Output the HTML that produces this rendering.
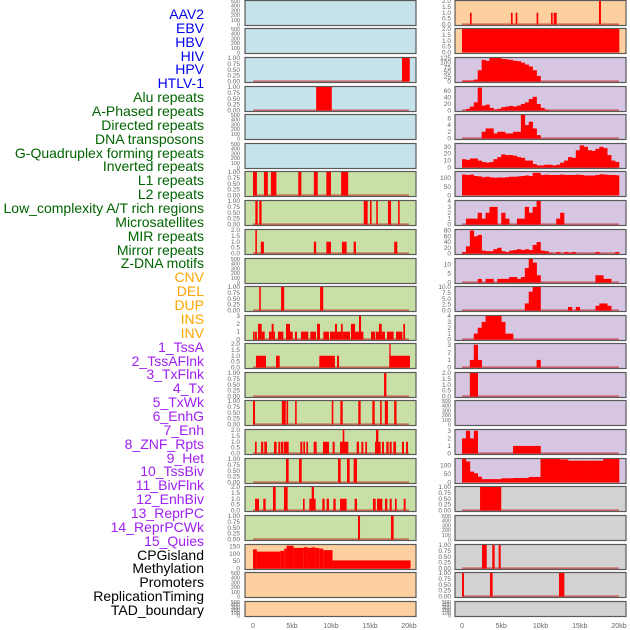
<!DOCTYPE html>
<html><head><meta charset="utf-8">
<style>
html,body{margin:0;padding:0;background:#fff;}
#wrap{position:relative;width:630px;height:630px;overflow:hidden;font-family:"Liberation Sans",sans-serif;}
.lab{position:absolute;right:427px;font-size:14px;line-height:14px;white-space:nowrap;}
svg{position:absolute;left:0;top:0;}
</style></head><body>
<div id="wrap">
<svg id="chart" width="630" height="630"></svg>
</div>
<script>
// ---------- labels ----------
const trackNames = ["AAV2","EBV","HBV","HIV","HPV","HTLV-1","Alu repeats","A-Phased repeats","Directed repeats","DNA transposons","G-Quadruplex forming repeats","Inverted repeats","L1 repeats","L2 repeats","Low_complexity A/T rich regions","Microsatellites","MIR repeats","Mirror repeats","Z-DNA motifs","CNV","DEL","DUP","INS","INV","1_TssA","2_TssAFlnk","3_TxFlnk","4_Tx","5_TxWk","6_EnhG","7_Enh","8_ZNF_Rpts","9_Het","10_TssBiv","11_BivFlnk","12_EnhBiv","13_ReprPC","14_ReprPCWk","15_Quies","CPGisland","Methylation","Promoters","ReplicationTiming","TAD_boundary"];
const trackGroups = [0,0,0,0,0,0,1,1,1,1,1,1,1,1,1,1,1,1,1,2,2,2,2,2,3,3,3,3,3,3,3,3,3,3,3,3,3,3,3,4,4,4,4,4];

// ---------- tick sets ----------
const t500 = [0,100,200,300,400,500];
const t500L = ["0","100","200","300","400","500"];
const t1 = [0,0.25,0.5,0.75,1];
const t1L = ["0.00","0.25","0.50","0.75","1.00"];
const t2 = [0,0.5,1,1.5,2];
const t2L = ["0.0","0.5","1.0","1.5","2.0"];
const t3 = [0,1,2,3];
const t3L = ["0","1","2","3"];
const t4 = [0,1,2,3,4];
const t4L = ["0","1","2","3","4"];
const t150 = [0,50,100,150];
const t150L = ["0","50","100","150"];
const t125 = [0,25,50,75,100,125];
const t125L = ["0","25","50","75","100","125"];
const t60 = [0,20,40,60];
const t60L = ["0","20","40","60"];
const t6 = [0,2,4,6];
const t6L = ["0","2","4","6"];
const t30 = [0,10,20,30];
const t30L = ["0","10","20","30"];
const t100 = [0,50,100];
const t100L = ["0","50","100"];
const t80 = [0,20,40,60,80];
const t80L = ["0","20","40","60","80"];
const t10 = [0,5,10];
const t10L = ["0","5","10"];
const t10b = [0,2.5,5,7.5,10];
const t10bL = ["0.0","2.5","5.0","7.5","10.0"];
const xTicks = [0,5,10,15,20];
const xTickLabels = ["0","5kb","10kb","15kb","20kb"];

// ---------- column 1 data: segments [startKb,endKb,value] ----------
const c1p2 = [[19.1,20.1,1]];
const c1p3 = [[8.1,10.1,1]];
const c1p6 = [[0,0.5,1],[1.4,1.9,1],[2.3,3.0,1],[5.8,6.2,1],[7.8,8.3,1],[9.4,10.0,1],[11.3,12.2,1]];
const c1p7 = [[0.3,0.6,1],[0.8,1.1,1],[14.2,14.7,1],[15.0,15.2,1],[15.8,16.0,1],[17.3,17.7,1],[18.6,18.8,1]];
const c1p8 = [[0.3,0.5,2],[1.0,1.4,1],[7.8,8.1,1],[9.4,10.0,1],[11.4,12.0,1],[12.9,13.2,1],[18.1,18.5,1]];
const c1p10 = [[0.8,1.0,1],[3.6,4.0,1],[8.6,9.0,1]];
const c1p11 = [[0,0.2,1],[0.26,0.5,1],[0.64,1.11,2],[1.11,1.5,1],[2.05,2.39,1],[2.39,2.65,2],[2.65,2.82,1],[3.2,3.89,1],[4.23,4.74,2],[4.74,5.09,1],[5.38,5.64,1],[6.15,7.09,1],[7.35,8.08,1],[8.21,8.59,2],[9.02,9.74,1],[9.87,10.51,1],[10.51,10.77,2],[10.77,11.28,1],[11.28,11.5,2],[11.5,12.44,1],[12.56,13.08,2],[13.08,13.59,1],[13.59,13.85,3],[13.85,14.15,1],[15.13,15.64,1],[15.73,16.15,1],[16.15,16.5,2],[16.5,16.92,1],[17.18,18.03,1],[18.33,19.15,1],[19.27,19.49,2]];
const c1p12 = [[0.38,1.67,1],[2.95,3.42,1],[8.5,10.5,1],[10.77,11.03,1],[17.48,20.13,1],[17.48,17.65,2]];
const c1p13 = [[16.8,17.1,1]];
const c1p14 = [[0,0.26,1],[3.7,4.2,1],[4.3,4.5,1],[5.4,5.6,1],[10.1,10.3,1],[11.2,11.5,1],[13.5,13.8,1],[15.3,15.6,1],[16.3,16.5,1],[16.9,17.3,1],[18.1,18.4,1]];
const c1p15 = [[0.26,0.47,1],[1.03,1.32,1],[1.45,1.79,1],[2.69,3.03,1],[3.25,3.5,1],[3.59,3.89,1],[3.97,4.57,1],[6.07,6.32,1],[6.45,6.67,1],[6.84,7.05,1],[7.78,8.16,1],[8.97,9.74,1],[10.21,10.47,1],[11.15,12.22,1],[11.5,11.71,2],[13.29,13.59,1],[13.89,14.15,1],[14.4,14.62,1],[15.64,16.37,1],[15.77,16.07,2],[16.54,16.79,1],[17.09,17.39,1],[17.52,17.78,1],[17.99,18.33,1],[19.1,19.36,1],[19.62,19.87,1]];
const c1p16 = [[4.23,4.57,1],[5.9,6.24,1],[10.9,11.24,1],[12.05,12.39,1],[12.9,13.33,1]];
const c1p17 = [[0.26,0.77,1],[1.32,1.62,1],[2.56,2.91,2],[3.97,4.44,2],[6.41,6.62,1],[7.22,7.61,1],[7.52,7.82,2],[7.61,8.03,1],[8.89,9.19,1],[9.44,9.74,1],[10.3,10.6,1],[11.15,12.0,1],[13.03,13.33,1],[15.38,15.73,1],[15.9,16.58,1],[16.92,17.22,1],[17.52,17.78,1],[18.2,18.42,1],[19.32,19.57,1]];
const c1p18 = [[13.46,13.72,1],[17.69,18.03,1]];
const c1p19 = [[0,0.5,130],[0.5,3.5,115],[3.5,4.0,120],[4.0,4.3,135],[4.3,5.2,155],[5.2,6.5,140],[6.5,7.0,145],[7.0,7.5,140],[7.5,8.0,145],[8.0,8.5,140],[8.5,9.0,135],[9.0,10.2,125],[10.2,20.2,55]];

// ---------- column 2 data ----------
const c2p0 = [[1.02,1.23,1],[6.24,6.45,1],[6.84,7.05,1],[9.5,9.72,1],[11.34,11.55,1],[11.68,12.06,1],[17.45,17.7,2]];
const c2p1 = [[0,20.04,2]];
// histogram bins (0.5kb each, 40 bins)
const c2p2 = [4,5,5,10,60,115,110,125,125,125,120,118,115,110,108,100,90,80,60,30,0,0,0,0,0,0,0,0,0,0,0,0,0,0,0,0,0,0,0,0];
const c2p3 = [0,5,12,25,70,15,18,8,3,5,10,12,14,12,15,20,25,35,42,20,8,2,0,0,0,0,0,0,0,0,0,0,0,0,0,0,0,0,0,0];
const c2p4 = [0,0,0,0,0,2,3,3,1.5,2,2,1.5,1.5,2,2,7,4,5,3,1,0,0,0,0,0,0,0,0,0,0,0,0,0,0,0,0,0,0,0,0];
const c2p5 = [12,11,13,13,10,8,7,8,12,15,19,18,18,17,15,14,10,10,5,3,3,4,4,3,4,7,10,15,14,25,32,30,25,24,27,30,28,18,10,8];
const c2p6 = [120,118,120,112,110,105,108,104,102,104,103,105,108,108,110,112,115,112,130,130,118,120,118,118,118,120,118,118,118,120,118,115,115,115,118,122,120,118,118,116];
const c2p7 = [0,1,1,1,2,1,2,3,3,0,2,1,0,0,1,1,3,2,3,4,0,0,0,0,1,2,0,0,0,0,0,0,0,0,0,0,0,0,0,0];
const c2p8 = [5,25,80,60,65,10,8,8,15,20,8,5,10,12,15,12,15,12,30,40,10,8,3,0,5,0,5,3,5,0,0,0,0,0,5,0,0,0,0,5];
const c2p9 = [0,0,0,0,2,0,2,2,0,2,2,2,3,3,2,3,8,13,11,4,0,0,0,0,0,0,0,0,0,0,0,0,0,0,4,4,2,2,0,0];
const c2p10 = [0,0,0,0,0,0,0,0,0,0,0,0,0,0,0,0,3,8,10,10,0,0,0,0,0,0,0,1.5,0,1.5,0,0,0,0,2,3,3,2,0,0];
const c2p11 = [0,0,0,1,2,3,4,4,4,4,3,1,1,0,0,0,0,0,0,0,0,0,0,0,0,0,0,0,0,0,0,0,0,0,0,0,0,0,0,0];
const c2p12 = [0,0,1,3,1,0,0,0,0,0,0,0,0,0,0,0,0,0,0,1,0,0,0,0,0,0,0,0,0,0,0,0,0,0,0,0,0,0,0,0];
const c2p13 = [0,0,2,2,0,0,0,0,0,0,0,0,0,0,0,0,0,0,0,0,0,0,0,0,0,0,0,0,0,0,0,0,0,0,0,0,0,0,0,0];
const c2p15 = [2,3,2,3,0,0,0,0,0,0,0,0,0,1,1,1,1,1,1,1,0,0,0,0,0,0,0,0,0,0,0,0,0,0,0,0,0,0,0,0];
const c2p16 = [140,125,65,55,35,20,20,20,20,20,25,25,25,27,27,27,27,33,33,33,140,140,140,140,140,137,137,130,130,130,130,130,130,130,130,130,140,140,140,140];
const c2p17 = [[2.3,5.0,1]];
const c2p19 = [[2.55,3.15,1],[3.86,4.16,1],[4.67,4.93,1]];
const c2p20 = [[0,0.25,1],[3.57,3.9,1],[12.36,13.04,1]];

const BLUE="#c6e2ea", GREEN="#c8e0a6", ORANGE="#fed09f", PURPLE="#d6c6e2", GRAY="#d2d2d2";
const panelTops = [0,28,57,86,114,143,171,200,229,258,286,315,343,372,400,429,458,486,515,544,572,601];

const col1 = [
 {bg:BLUE,t:t500,l:t500L,max:500},{bg:BLUE,t:t500,l:t500L,max:500},
 {bg:BLUE,t:t1,l:t1L,max:1,s:c1p2},{bg:BLUE,t:t1,l:t1L,max:1,s:c1p3},
 {bg:BLUE,t:t500,l:t500L,max:500},{bg:BLUE,t:t500,l:t500L,max:500},
 {bg:GREEN,t:t1,l:t1L,max:1,s:c1p6},{bg:GREEN,t:t1,l:t1L,max:1,s:c1p7},
 {bg:GREEN,t:t2,l:t2L,max:2,s:c1p8},{bg:GREEN,t:t500,l:t500L,max:500},
 {bg:GREEN,t:t1,l:t1L,max:1,s:c1p10},{bg:GREEN,t:t3,l:t3L,max:3,s:c1p11},
 {bg:GREEN,t:t2,l:t2L,max:2,s:c1p12},{bg:GREEN,t:t1,l:t1L,max:1,s:c1p13},
 {bg:GREEN,t:t1,l:t1L,max:1,s:c1p14},{bg:GREEN,t:t2,l:t2L,max:2,s:c1p15},
 {bg:GREEN,t:t1,l:t1L,max:1,s:c1p16},{bg:GREEN,t:t2,l:t2L,max:2,s:c1p17},
 {bg:GREEN,t:t1,l:t1L,max:1,s:c1p18},{bg:ORANGE,t:t150,l:t150L,max:160,s:c1p19},
 {bg:ORANGE,t:t500,l:t500L,max:500},{bg:ORANGE,t:t500,l:t500L,max:500}
];
const col2 = [
 {bg:ORANGE,t:t2,l:t2L,max:2,s:c2p0},{bg:ORANGE,t:t2,l:t2L,max:2,s:c2p1,noBase:1},
 {bg:PURPLE,t:t125,l:t125L,max:125,h:c2p2},{bg:PURPLE,t:t60,l:t60L,max:72,h:c2p3},
 {bg:PURPLE,t:t6,l:t6L,max:7,h:c2p4},{bg:PURPLE,t:t30,l:t30L,max:34,h:c2p5},
 {bg:PURPLE,t:t100,l:t100L,max:135,h:c2p6,noBase:1},{bg:PURPLE,t:t4,l:t4L,max:4,h:c2p7},
 {bg:PURPLE,t:t80,l:t80L,max:82,h:c2p8},{bg:PURPLE,t:t10,l:t10L,max:13,h:c2p9},
 {bg:PURPLE,t:t10b,l:t10bL,max:10,h:c2p10},{bg:PURPLE,t:t4,l:t4L,max:4,h:c2p11},
 {bg:PURPLE,t:t3,l:t3L,max:3.1,h:c2p12},{bg:PURPLE,t:t2,l:t2L,max:2,h:c2p13},
 {bg:PURPLE,t:t500,l:t500L,max:500},{bg:PURPLE,t:t3,l:t3L,max:3.1,h:c2p15},
 {bg:PURPLE,t:t100,l:t100L,max:140,h:c2p16,noBase:1},{bg:GRAY,t:t1,l:t1L,max:1,s:c2p17},
 {bg:GRAY,t:t500,l:t500L,max:500},{bg:GRAY,t:t1,l:t1L,max:1,s:c2p19},
 {bg:GRAY,t:t1,l:t1L,max:1,s:c2p20},{bg:GRAY,t:t500,l:t500L,max:500}
];

const NS="http://www.w3.org/2000/svg";
const svg=document.getElementById("chart");
function mk(tag,attrs,parent){const e=document.createElementNS(NS,tag);for(const k in attrs)e.setAttribute(k,attrs[k]);(parent||svg).appendChild(e);return e;}

const groupColors=["#0000ee","#006400","#ffa500","#a020f0","#000000"];
const wrap=document.getElementById("wrap");
trackNames.forEach((n,i)=>{
  const d=document.createElement("div");
  d.className="lab";
  
  
  d.style.top=(7+i*13.86)+"px";
  d.style.right=(630-204)+"px";
  d.style.color=groupColors[trackGroups[i]];
  d.textContent=n;
  wrap.appendChild(d);
});

function drawColumn(cfg,frameX,frameW,x0,pxkb,tickRight,colIdx){
  const xs=kb=>x0+kb*pxkb;
  cfg.forEach((p,i)=>{
    const top=panelTops[i];
    const h=(i===panelTops.length-1)?15:25;
    const bottom=top+h;
    const g=mk("g",{});
    
    
    const r=mk("rect",{x:frameX,y:top+0.5,width:frameW,height:h,fill:p.bg,stroke:"#5a5a5a","stroke-width":1.2},g);
    
    
    const ys=v=>bottom-0.5-(v/p.max)*(h-1.5);
    // ticks
    p.t.forEach((tv,k)=>{
      const tt=mk("text",{x:tickRight,y:ys(tv)+2,"font-size":(p.max===500?5.5:6.5),fill:"#666","text-anchor":"end"},g);
      
      
      tt.textContent=p.l[k];
    });
    if(p.s||p.h){
      if(!p.noBase){
        const b=mk("line",{x1:xs(0),x2:xs(20),y1:bottom-0.8,y2:bottom-0.8,stroke:"rgba(190,20,20,0.55)","stroke-width":1.6},g);
        
        
      }
      if(p.s){
        p.s.forEach(sg=>{
          const y=ys(sg[2]);
          const bar=mk("rect",{x:xs(sg[0]),y:y,width:Math.max(1,xs(sg[1])-xs(sg[0])),height:bottom-0.5-y,fill:"#ff0000"},g);
          
          
        });
      }
      if(p.h){
        p.h.forEach((v,k)=>{
          if(v<=0)return;
          const y=ys(v);
          const bar=mk("rect",{x:xs(k*0.5),y:y,width:0.5*pxkb+0.3,height:bottom-0.5-y,fill:"#ff0000"},g);
          
          
        });
      }
    }
  });
  xTicks.forEach((kb,k)=>{
    const t=mk("text",{x:xs(kb),y:628,"font-size":7,fill:"#666","text-anchor":"middle"});
    
    
    t.textContent=xTickLabels[k];
  });
}
drawColumn(col1,245,171,253,7.8,240,1);
drawColumn(col2,455,171,462,7.85,451,2);
</script>
</body></html>
